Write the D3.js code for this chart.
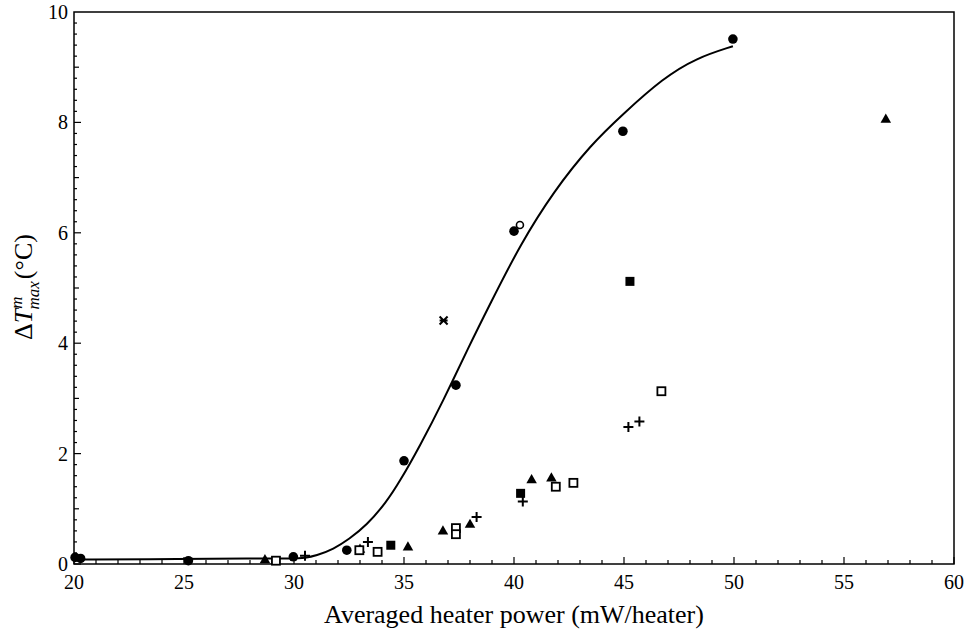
<!DOCTYPE html>
<html>
<head>
<meta charset="utf-8">
<script src="https://cdn.jsdelivr.net/npm/d3@7"></script>
<style>
  body { margin: 0; background: #fff; }
  svg text { font-family: "Liberation Serif", "Times New Roman", serif; fill: #000; }
</style>
</head>
<body>
<div id="chart"></div>
<script>
// values: [heater power, dT]
const filledCircles = [[20.05, 0.12], [20.3, 0.1], [25.2, 0.06], [29.97, 0.13], [32.4, 0.25],
  [35.0, 1.87], [37.36, 3.24], [40.0, 6.03], [44.95, 7.84], [49.95, 9.51]];
const openCircles = [[40.27, 6.14]];
const crosses = [[36.8, 4.41]];
const filledTriangles = [[28.68, 0.07], [33.0, 0.26], [35.18, 0.3], [36.77, 0.59], [38.0, 0.71],
  [40.8, 1.52], [41.7, 1.55], [56.9, 8.05]];
const filledSquares = [[34.4, 0.34], [40.3, 1.28], [45.27, 5.12]];
const openSquares = [[29.18, 0.06], [32.97, 0.25], [33.8, 0.22], [37.36, 0.65], [37.36, 0.54],
  [41.9, 1.4], [42.7, 1.47], [46.7, 3.13]];
const plusses = [[30.5, 0.15], [33.36, 0.4], [38.3, 0.85], [40.4, 1.13], [45.2, 2.48], [45.7, 2.58]];
const fitCurve = [[20, 0.08], [20, 0.08], [25, 0.09], [28, 0.1], [30, 0.1], [30.5, 0.11], [31, 0.15],
  [31.8, 0.27], [32.5, 0.45], [33.3, 0.7], [34.2, 1.12], [34.8, 1.49], [35.7, 2.12],
  [36.8, 2.97], [37.9, 3.9], [38.9, 4.7], [40.3, 5.8], [41.8, 6.75], [43.5, 7.6],
  [44.95, 8.15], [46.77, 8.8], [48.3, 9.17], [49.95, 9.38], [49.95, 9.38]];
const xTicks = [20, 25, 30, 35, 40, 45, 50, 55, 60];
const yTicks = [0, 2, 4, 6, 8, 10];

const width = 969, height = 634;
const margin = {top: 12, right: 15, bottom: 70, left: 74};

const svg = d3.select("#chart").append("svg")
  .attr("width", width)
  .attr("height", height);

const x = d3.scaleLinear().domain([20, 60]).range([margin.left, width - margin.right]);
const y = d3.scaleLinear().domain([0, 10]).range([height - margin.bottom, margin.top]);

// frame
svg.append("rect")
  .attr("x", x(20)).attr("y", y(10))
  .attr("width", x(60) - x(20)).attr("height", y(0) - y(10))
  .attr("fill", "none").attr("stroke", "#000").attr("stroke-width", 1.5);

// bottom axis, ticks pointing inward
const xAxis = svg.append("g").attr("transform", "translate(0," + y(0) + ")");
xAxis.selectAll("line.minor")
  .data(d3.range(20, 61, 1))
  .enter().append("line")
  .attr("x1", d => x(d)).attr("x2", d => x(d))
  .attr("y1", 0).attr("y2", d => d % 5 === 0 ? -7 : -4)
  .attr("stroke", "#000").attr("stroke-width", 1.2);
xAxis.selectAll("text")
  .data(xTicks)
  .enter().append("text")
  .attr("x", d => x(d)).attr("y", 25)
  .attr("text-anchor", "middle")
  .style("font-size", "20px")
  .text(d => d);

// left axis
const yAxis = svg.append("g").attr("transform", "translate(" + x(20) + ",0)");
yAxis.selectAll("line")
  .data(d3.range(0, 50).map(i => i * 0.2))
  .enter().append("line")
  .attr("y1", d => y(d)).attr("y2", d => y(d))
  .attr("x1", 0).attr("x2", (d, i) => i % 10 === 0 ? 7 : (i % 5 === 0 ? 5 : 3))
  .attr("stroke", "#000").attr("stroke-width", 1.2);
yAxis.selectAll("text")
  .data(yTicks)
  .enter().append("text")
  .attr("x", -6).attr("y", d => y(d))
  .attr("dy", "0.35em")
  .attr("text-anchor", "end")
  .style("font-size", "20px")
  .text(d => d);

// axis titles
svg.append("text")
  .attr("x", x(40)).attr("y", 623)
  .attr("text-anchor", "middle")
  .style("font-size", "26px")
  .text("Averaged heater power (mW/heater)");

const ylab = svg.append("text")
  .attr("transform", "translate(32,287) rotate(-90)")
  .attr("text-anchor", "middle")
  .style("font-size", "26px");
ylab.append("tspan").text("\u0394");
ylab.append("tspan").style("font-style", "italic").text("T");
ylab.append("tspan").style("font-style", "italic").style("font-size", "17px").attr("dy", -10).text("m");
ylab.append("tspan").style("font-style", "italic").style("font-size", "17px").attr("dx", -13).attr("dy", 17).text("max");
ylab.append("tspan").attr("dx", 2).attr("dy", -7).text("(\u00b0C)");

// fitted curve
svg.append("path")
  .datum(fitCurve)
  .attr("fill", "none")
  .attr("stroke", "#000")
  .attr("stroke-width", 2)
  .attr("d", d3.line().x(d => x(d[0])).y(d => y(d[1])).curve(d3.curveBasis));

// markers
svg.selectAll(".fc").data(filledCircles).enter().append("circle")
  .attr("cx", d => x(d[0])).attr("cy", d => y(d[1])).attr("r", 4.8).attr("fill", "#000");

svg.selectAll(".oc").data(openCircles).enter().append("circle")
  .attr("cx", d => x(d[0])).attr("cy", d => y(d[1])).attr("r", 3.5)
  .attr("fill", "#fff").attr("stroke", "#000").attr("stroke-width", 1.6);

svg.selectAll(".ft").data(filledTriangles).enter().append("path")
  .attr("transform", d => "translate(" + x(d[0]) + "," + y(d[1]) + ")")
  .attr("d", d3.symbol(d3.symbolTriangle, 48))
  .attr("fill", "#000");

svg.selectAll(".fs").data(filledSquares).enter().append("rect")
  .attr("x", d => x(d[0]) - 4.5).attr("y", d => y(d[1]) - 4.5)
  .attr("width", 9).attr("height", 9).attr("fill", "#000");

svg.selectAll(".os").data(openSquares).enter().append("rect")
  .attr("x", d => x(d[0]) - 4).attr("y", d => y(d[1]) - 4)
  .attr("width", 8).attr("height", 8)
  .attr("fill", "#fff").attr("stroke", "#000").attr("stroke-width", 1.8);

svg.selectAll(".pl").data(plusses).enter().append("path")
  .attr("transform", d => "translate(" + x(d[0]) + "," + y(d[1]) + ")")
  .attr("d", "M-5,0H5M0,-5V5")
  .attr("stroke", "#000").attr("stroke-width", 2);

svg.selectAll(".cr").data(crosses).enter().append("path")
  .attr("transform", d => "translate(" + x(d[0]) + "," + y(d[1]) + ")")
  .attr("d", "M-4,-4L4,4M4,-4L-4,4M-4,0H4")
  .attr("stroke", "#000").attr("stroke-width", 2);
</script>
</body>
</html>
